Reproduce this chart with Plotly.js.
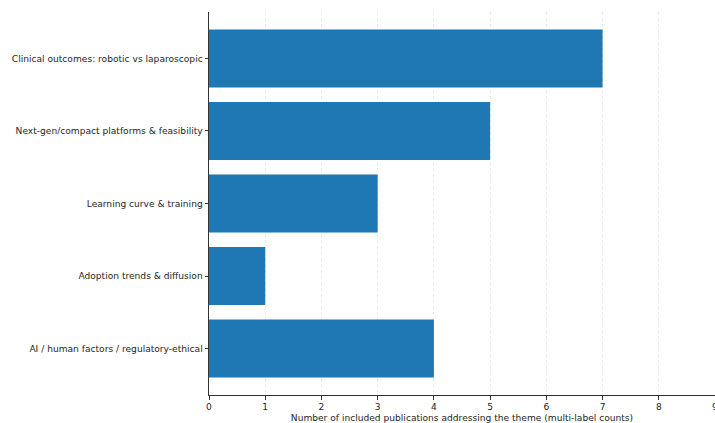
<!DOCTYPE html>
<html>
<head>
<meta charset="utf-8">
<script src="https://cdn.plot.ly/plotly-3.0.1.min.js"></script>
<style>
  html, body { margin: 0; padding: 0; background: #ffffff; }
  #chart { width: 715px; height: 423px; }
</style>
</head>
<body>
<div id="chart"></div>
<script>
// Research themes and how many included publications touch each one
const themes = [
  "Clinical outcomes: robotic vs laparoscopic",
  "Next-gen/compact platforms & feasibility",
  "Learning curve & training",
  "Adoption trends & diffusion",
  "AI / human factors / regulatory-ethical"
];
const counts = [7, 5, 3, 1, 4];
const xTicks = [0, 1, 2, 3, 4, 5, 6, 7, 8, 9];

const font = { family: "DejaVu Sans, sans-serif", size: 9.1, color: "#262626" };

const trace = {
  type: "bar",
  orientation: "h",
  y: themes,
  x: counts,
  width: 0.8,
  marker: { color: "#1f77b4", line: { width: 0 } },
  hoverinfo: "x+y"
};

const layout = {
  width: 715,
  height: 423,
  margin: { l: 209, r: 0, t: 12, b: 28 },
  paper_bgcolor: "#ffffff",
  plot_bgcolor: "#ffffff",
  font: font,
  showlegend: false,
  bargap: 0.2,
  xaxis: {
    range: [0, 9],
    tickvals: xTicks,
    ticktext: xTicks.map(String),
    ticklabeloverflow: "allow",
    showgrid: true,
    gridcolor: "#ebebeb",
    griddash: "dot",
    gridwidth: 1,
    zeroline: false,
    showline: true,
    linecolor: "#333333",
    linewidth: 1,
    ticks: "outside",
    ticklen: 3.5,
    tickwidth: 1,
    tickcolor: "#333333",
    tickfont: font,
    title: {
      text: "Number of included publications addressing the theme (multi-label counts)",
      font: font,
      standoff: 4
    }
  },
  yaxis: {
    type: "category",
    categoryorder: "array",
    categoryarray: themes,
    range: [4.64, -0.64],
    showgrid: false,
    zeroline: false,
    showline: true,
    linecolor: "#333333",
    linewidth: 1,
    ticks: "outside",
    ticklen: 3.5,
    tickwidth: 1,
    tickcolor: "#333333",
    tickfont: font,
    ticklabelstandoff: 3.5,
    automargin: false
  }
};

Plotly.newPlot("chart", [trace], layout, { displayModeBar: false, staticPlot: true });
</script>
</body>
</html>
